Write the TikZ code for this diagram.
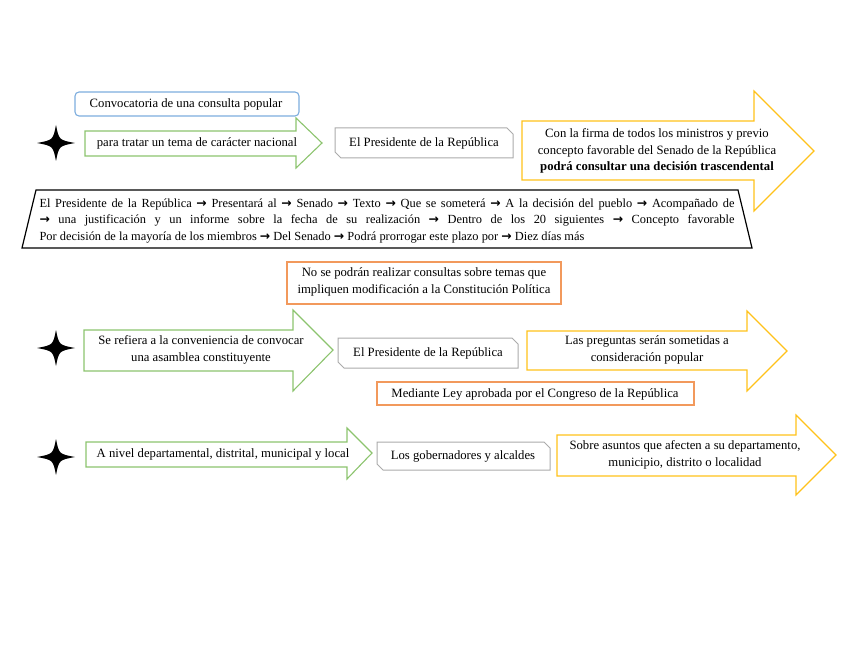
\documentclass[tikz,border=0pt]{standalone}
\usepackage{fontspec}
\setmainfont{Liberation Serif}
\newfontfamily\arrowfont{DejaVu Sans}
\newcommand{\flecha}{{\arrowfont\bfseries →}}
\usetikzlibrary{shapes}

\definecolor{verde}{HTML}{8CC46E}
\definecolor{amarillo}{HTML}{FFC21A}
\definecolor{naranja}{HTML}{F2995C}
\definecolor{azul}{HTML}{7DADDE}
\definecolor{gris}{HTML}{ABABAB}

\begin{document}
\begin{tikzpicture}[x=1pt,y=-1pt]
      \tikzstyle{every node}+=[inner sep=0pt, font=\fontsize{12.7}{16.5}\selectfont]
      \tikzstyle{flecha verde}=[draw=verde, line width=1.1pt, fill=white]
      \tikzstyle{flecha amarilla}=[draw=amarillo, line width=1.1pt, fill=white]
      \tikzstyle{caja gris}=[draw=gris, line width=1pt, fill=white]
      \tikzstyle{caja naranja}=[draw=naranja, line width=1.1pt, fill=white]
      \useasboundingbox (0,0) rectangle (848,655);
      % estrellas
      \foreach \y in {143,348,457}
        \fill [black] (56,\y-18) .. controls (59,\y-3) .. (75,\y) .. controls (59,\y+3) .. (56,\y+18)
          .. controls (53,\y+3) .. (37,\y) .. controls (53,\y-3) .. cycle;
      % primera fila
      \draw [flecha verde] (85,131) -- (296,131) -- (296,118) -- (322,143) -- (296,168) -- (296,156) -- (85,156) -- cycle;
      \draw [draw=azul, line width=1.1pt, fill=white, rounded corners=4pt] (75,92) rectangle (299,116);
      \draw [caja gris] (335,128) -- (507,128) -- (513,134) -- (513,158) -- (341,158) -- (335,152) -- cycle;
      \draw [flecha amarilla] (522,121) -- (754,121) -- (754,91) -- (814,151) -- (754,211) -- (754,180) -- (522,180) -- cycle;
      \node (convocatoria) at (186,104) {Convocatoria de una consulta popular};
      \node (tema) at (197,143) {para tratar un tema de carácter nacional};
      \node (presidente1) at (424,143) {El Presidente de la República};
      \node (firma) [align=center] at (657,151) {Con la firma de todos los ministros y previo\\concepto favorable del Senado de la República\\\textbf{podrá consultar una decisión trascendental}};
      % trapecio
      \draw [black, line width=1.2pt] (36,190) -- (738,190) -- (752,248) -- (22,248) -- cycle;
      \node (pasos) [text width=695pt, align=justify, font=\fontsize{12.4}{16.8}\selectfont] at (387,221)
        {\tolerance=9999 El Presidente de la República \flecha{} Presentará al \flecha{} Senado \flecha{} Texto \flecha{} Que se someterá \flecha{} A la decisión del pueblo \flecha{} Acompañado de\linebreak
         \flecha{} una justificación y un informe sobre la fecha de su realización \flecha{} Dentro de los 20 siguientes \flecha{} Concepto favorable\linebreak
         Por decisión de la mayoría de los miembros \flecha{} Del Senado \flecha{} Podrá prorrogar este plazo por \flecha{} Diez días más};
      % segunda fila
      \draw [caja naranja] (287,262) rectangle (561,304);
      \node (restriccion) [align=center] at (424,282) {No se podrán realizar consultas sobre temas que\\impliquen modificación a la Constitución Política};
      \draw [flecha verde] (84,330) -- (293,330) -- (293,310) -- (333,350) -- (293,391) -- (293,371) -- (84,371) -- cycle;
      \draw [caja gris] (338,338) -- (512,338) -- (518,344) -- (518,368) -- (344,368) -- (338,362) -- cycle;
      \draw [flecha amarilla] (527,331) -- (747,331) -- (747,311) -- (787,351) -- (747,391) -- (747,370) -- (527,370) -- cycle;
      \draw [caja naranja] (377,382) rectangle (694,405);
      \node (asamblea) [align=center] at (201,350) {Se refiera a la conveniencia de convocar\\una asamblea constituyente};
      \node (presidente2) at (428,353) {El Presidente de la República};
      \node (preguntas) [align=center] at (647,350) {Las preguntas serán sometidas a\\consideración popular};
      \node (ley) at (535,394) {Mediante Ley aprobada por el Congreso de la República};
      % tercera fila
      \draw [flecha verde] (86,442) -- (347,442) -- (347,428) -- (372,453) -- (347,479) -- (347,467) -- (86,467) -- cycle;
      \draw [caja gris] (377,442) -- (544,442) -- (550,448) -- (550,470) -- (383,470) -- (377,464) -- cycle;
      \draw [flecha amarilla] (557,435) -- (796,435) -- (796,415) -- (836,455) -- (796,495) -- (796,476) -- (557,476) -- cycle;
      \node (nivel) at (223,454) {A nivel departamental, distrital, municipal y local};
      \node (gobernadores) at (463,456) {Los gobernadores y alcaldes};
      \node (asuntos) [align=center] at (685,455) {Sobre asuntos que afecten a su departamento,\\municipio, distrito o localidad};
\end{tikzpicture}
\end{document}
